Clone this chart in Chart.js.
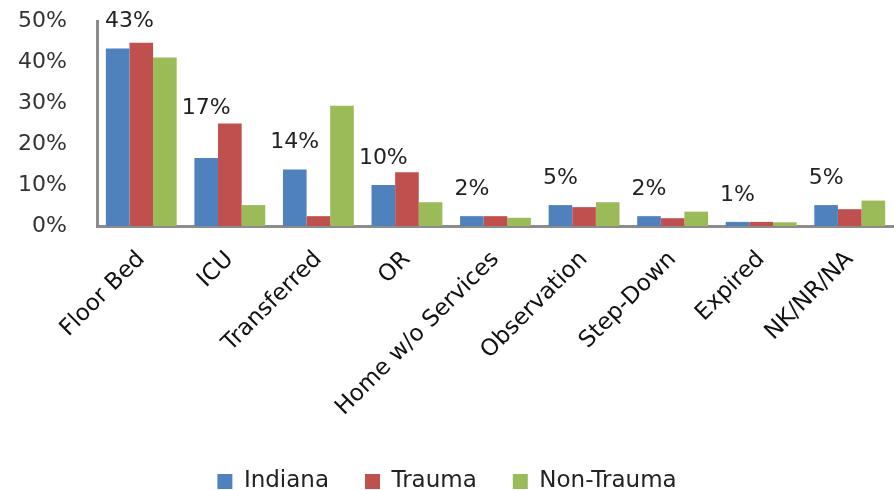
<!DOCTYPE html>
<html>
<head>
<meta charset="utf-8">
<script src="https://cdn.jsdelivr.net/npm/chart.js@4/dist/chart.umd.min.js"></script>
<style>
  html, body { margin: 0; padding: 0; background: #fff; }
  #wrap { width: 894px; height: 490px; position: relative; }
</style>
</head>
<body>
<div id="wrap"><canvas id="myChart"></canvas></div>
<script>
const categories = ["Floor Bed", "ICU", "Transferred", "OR", "Home w/o Services", "Observation", "Step-Down", "Expired", "NK/NR/NA"]
const indiana = [43.3, 16.6, 13.8, 10.0, 2.4, 5.1, 2.4, 1.0, 5.1]
const trauma = [44.7, 25.0, 2.4, 13.1, 2.4, 4.6, 1.9, 1.0, 4.1]
const nonTrauma = [41.1, 5.1, 29.3, 5.8, 2.0, 5.8, 3.5, 0.9, 6.2]
const yTicks = [0, 10, 20, 30, 40, 50]

const FONT = "DejaVu Sans"

// percent labels above the Indiana bars
const indianaLabels = {
  id: "indianaLabels",
  beforeLayout(chart) {
    // keep wide gaps between legend items but a short legend box
    const lg = chart.legend
    if (lg && !lg._patched) {
      const fit = lg.fit.bind(lg)
      lg.fit = function () { fit(); this.height = 56 }
      lg._patched = true
    }
  },
  afterDatasetsDraw(chart) {
    const ctx = chart.ctx
    const ind = chart.getDatasetMeta(0).data
    const tra = chart.getDatasetMeta(1).data
    ctx.save()
    ctx.font = "22px '" + FONT + "'"
    ctx.fillStyle = "#222"
    ctx.textAlign = "center"
    ctx.textBaseline = "middle"
    indiana.forEach((v, i) => {
      const txt = Math.round(v) + "%"
      const w = ctx.measureText(txt).width
      const bar = ind[i]
      let x = Math.max(bar.x, chart.chartArea.left + 8 + w / 2)
      let y = bar.y - 27
      const t = tra[i]
      if (x + w / 2 > t.x - t.width / 2 && y + 11 > t.y) y = t.y - 15
      ctx.fillText(txt, x, y)
    })
    ctx.restore()
  }
}

new Chart("myChart", {
  type: "bar",
  data: {
    labels: categories,
    datasets: [
      { label: "Indiana", data: indiana, backgroundColor: "#4F81BD" },
      { label: "Trauma", data: trauma, backgroundColor: "#C0504D" },
      { label: "Non-Trauma", data: nonTrauma, backgroundColor: "#9BBB59" }
    ]
  },
  options: {
    responsive: true,
    maintainAspectRatio: false,
    animation: false,
    categoryPercentage: 0.8,
    barPercentage: 1.0,
    layout: { padding: { top: 21, left: 0, right: 0, bottom: 0 } },
    plugins: {
      tooltip: { enabled: false },
      legend: {
        position: "bottom",
        labels: {
          boxWidth: 15,
          boxHeight: 15,
          padding: 36,
          color: "#222",
          font: { family: FONT, size: 23 }
        }
      }
    },
    scales: {
      x: {
        grid: { display: false, drawTicks: false },
        border: { display: true, color: "#8c8c8c", width: 3 },
        ticks: {
          autoSkip: false,
          minRotation: 45,
          maxRotation: 45,
          padding: 20,
          color: "#111",
          font: { family: FONT, size: 23 }
        },
        afterFit(scale) { scale.height = 208 }
      },
      y: {
        min: 0,
        max: 50,
        grid: { display: false, drawTicks: false },
        border: { display: true, color: "#8c8c8c", width: 3 },
        afterBuildTicks(scale) { scale.ticks = yTicks.map(v => ({ value: v })) },
        ticks: {
          padding: 30,
          color: "#333",
          font: { family: FONT, size: 22 },
          callback: v => v + "%"
        },
        afterFit(scale) {
          scale.width = 97
          scale.paddingTop = 0
          scale.paddingBottom = 0
        }
      }
    }
  },
  plugins: [indianaLabels]
})
</script>
</body>
</html>
